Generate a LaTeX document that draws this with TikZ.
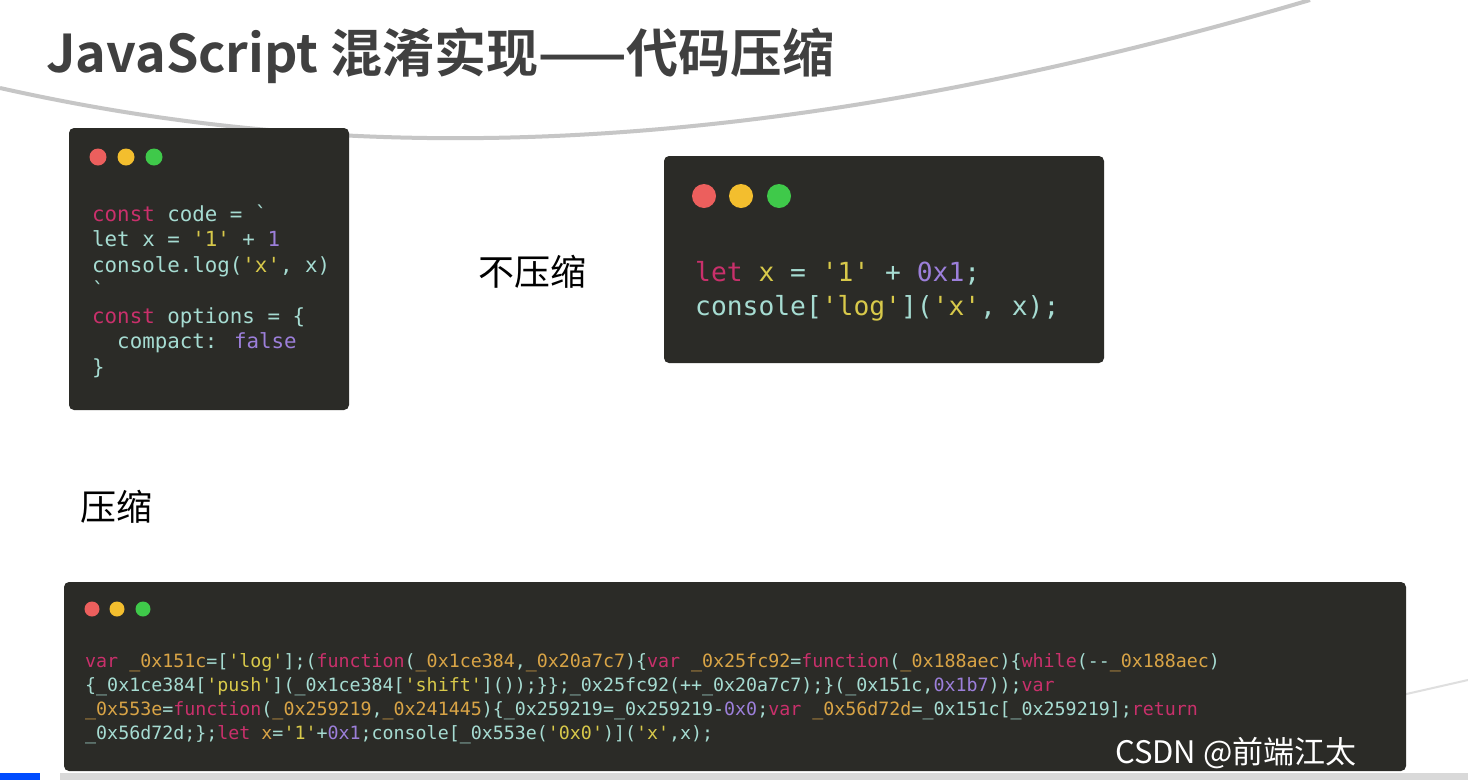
\documentclass[tikz,border=0pt]{standalone}
\usepackage{fontspec}
\setmainfont{Noto Sans CJK SC}
\newfontfamily\cjkb{Noto Sans CJK SC}[BoldFont={* Bold}]
\newfontfamily\mono{DejaVu Sans Mono}
\definecolor{bgc}{HTML}{2B2B27}
\definecolor{kw}{HTML}{C9306B}
\definecolor{tx}{HTML}{A6DCD2}
\definecolor{st}{HTML}{D8C94A}
\definecolor{nm}{HTML}{9C7FDA}
\definecolor{id}{HTML}{D9A446}
\definecolor{rd}{HTML}{EC5F5D}
\definecolor{yl}{HTML}{F3BE2E}
\definecolor{gr}{HTML}{3FC94A}
\newcommand\cK[1]{\textcolor{kw}{#1}}
\newcommand\cS[1]{\textcolor{st}{#1}}
\newcommand\cN[1]{\textcolor{nm}{#1}}
\newcommand\cI[1]{\textcolor{id}{#1}}
\begin{document}
\begin{tikzpicture}[x=1pt,y=-1pt,
  win/.style={fill=bgc,rounded corners=5pt,draw=none},
  codeline/.style={anchor=base west,inner sep=0,text=tx,font=\mono},
  lbl/.style={anchor=base west,inner sep=0,font=\fontsize{36}{36}\selectfont}]
\useasboundingbox (0,0) rectangle (1468,780);
\fill[white] (0,0) rectangle (1468,780);
% swoosh
\draw[gray!45,line width=4pt] (0,88) .. controls (300,155) and (700,180) .. (1310,0);
\draw[gray!25,line width=2pt] (1380,700) -- (1468,680);
\fill[blue!70!cyan] (0,773) rectangle (40,780);
\fill[gray!30] (60,773) rectangle (1468,780);
% title
\node[anchor=base west,inner sep=0,font=\cjkb\bfseries\fontsize{52}{52}\selectfont,text=black!75] (title) at (46,72) {JavaScript 混淆实现——代码压缩};
% left window
\draw[win] (69,128) rectangle (349,410);
\foreach \c/\x in {rd/98,yl/126,gr/154}{\fill[\c] (\x,157) circle (8.5);}
\begin{scope}[every node/.style={codeline,font=\mono\fontsize{20.8}{21}\selectfont}]
\node (l1) at (92,221) {\cK{const} code = \symbol{96}};
\node (l2) at (92,246) {let x = \cS{'1'} + \cN{1}};
\node (l3) at (92,272) {console.log(\cS{'x'}, x)};
\node (l4) at (92,297) {\symbol{96}};
\node (l5) at (92,323) {\cK{const} options = \{};
\node (l6) at (92,348) {\ \ compact: \cN{false}};
\node (l7) at (92,374) {\}};
\end{scope}
% right window
\draw[win] (664,156) rectangle (1104,363);
\foreach \c/\x in {rd/704,yl/741,gr/779}{\fill[\c] (\x,196) circle (12);}
\begin{scope}[every node/.style={codeline,font=\mono\fontsize{26.3}{26}\selectfont}]
\node (r1) at (695,281) {\cK{let} \cS{x} = \cS{'1'} + \cN{0x1};};
\node (r2) at (695,315) {console[\cS{'log'}](\cS{'x'}, x);};
\end{scope}
\node[lbl] (nocomp) at (478,285) {不压缩};
\node[lbl] (comp) at (80,520) {压缩};
% bottom window
\draw[win] (64,582) rectangle (1406,771);
\foreach \c/\x in {rd/92,yl/117,gr/143}{\fill[\c] (\x,609) circle (7.5);}
\begin{scope}[every node/.style={codeline,font=\mono\fontsize{18.3}{18}\selectfont}]
\node (b1) at (85,667) {\cK{var} \cI{\_0x151c}=[\cS{'log'}];(\cK{function}(\cI{\_0x1ce384},\cI{\_0x20a7c7})\{\cK{var} \cI{\_0x25fc92}=\cK{function}(\cI{\_0x188aec})\{\cK{while}(-{}-\cI{\_0x188aec})};
\node (b2) at (85,691) {\{\_0x1ce384[\cS{'push'}](\_0x1ce384[\cS{'shift'}]());\}\};\_0x25fc92(++\_0x20a7c7);\}(\_0x151c,\cN{0x1b7}));\cK{var}};
\node (b3) at (85,715) {\cI{\_0x553e}=\cK{function}(\cI{\_0x259219},\cI{\_0x241445})\{\_0x259219=\_0x259219-\cN{0x0};\cK{var} \cI{\_0x56d72d}=\_0x151c[\_0x259219];\cK{return}};
\node (b4) at (85,739) {\_0x56d72d;\};\cK{let} \cI{x}=\cS{'1'}+\cN{0x1};console[\_0x553e(\cS{'0x0'})](\cS{'x'},x);};
\end{scope}
\node[anchor=base west,inner sep=0,font=\fontsize{31}{31}\selectfont,text=white] (wm) at (1115,763) {CSDN @前端江太};
\end{tikzpicture}
\end{document}
